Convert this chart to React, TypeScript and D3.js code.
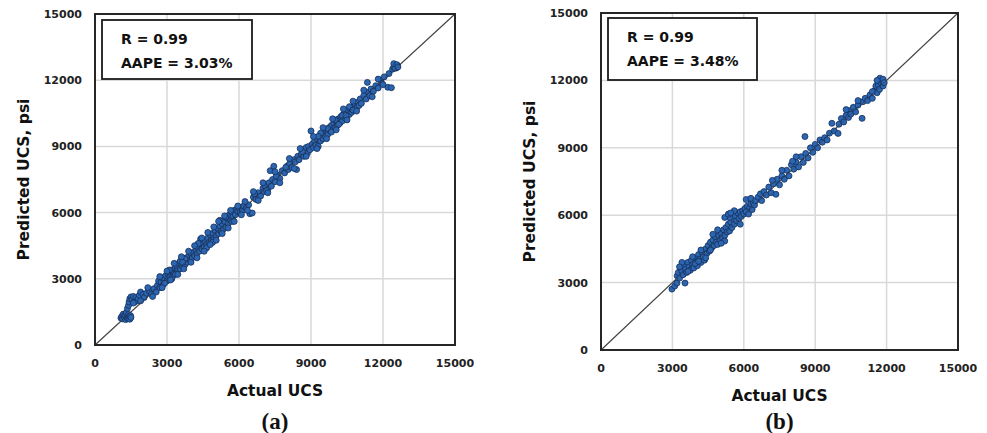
import React from "react";
import * as d3 from "d3";

const xTicks = [0, 3000, 6000, 9000, 12000, 15000];
const yTicks = [0, 3000, 6000, 9000, 12000, 15000];
const statsA = ["R = 0.99", "AAPE = 3.03%"];
const statsB = ["R = 0.99", "AAPE = 3.48%"];
const labelA = "(a)";
const labelB = "(b)";
const xTitle = "Actual UCS";
const yTitle = "Predicted UCS, psi";

// Panel (a): [actual, predicted]
const pointsA: [number, number][] = [
  [1080,1220],[1120,1300],[1150,1180],[1180,1400],[1220,1260],[1250,1350],[1280,1150],[1300,1450],[1330,1240],[1360,1320],
  [1380,1200],[1400,1380],[1420,1280],[1450,1170],[1480,1330],[1500,1250],[1350,1650],[1400,1800],[1420,1950],[1450,2100],
  [1500,2180],[1550,2050],[1600,2200],[1650,1950],[1700,2150],[1750,2000],[1800,2100],[1850,2250],[1900,2400],[2000,2300],
  [2050,2150],[2150,2350],[2250,2450],[2350,2300],[2450,2550],[2550,2400],
  [2600,2700],[2650,2900],[2700,2600],[2750,2850],[2800,3050],[2850,2750],[2900,3000],[2950,3150],[3000,2900],[3050,3200],
  [3080,3050],[3100,3300],[3150,3100],[3200,3400],[3250,3150],[3280,3350],[3300,3250],[3350,3500],[3400,3300],[3420,3550],
  [3450,3400],[3500,3700],[3550,3450],[3600,3650],[3620,3850],[3650,3550],[3700,3800],[3750,3650],[3800,3950],[3850,3750],
  [3900,4000],[3950,3850],[4000,4150],[3100,3400],[3350,3200],[3550,3800],[3750,3900],[2900,2800],[3200,3000],[3650,3750],
  [4050,3950],[4100,4200],[4150,4050],[4200,4300],[4250,4150],[4300,4400],[4350,4250],[4400,4550],[4450,4350],[4500,4600],
  [4550,4450],[4600,4700],[4650,4550],[4700,4850],[4750,4650],[4800,5000],[4850,4750],[4900,5050],[4950,4850],[5000,5200],
  [5050,4950],[5100,5300],[5150,5050],[5200,5400],[5250,5150],[5300,5500],[5350,5250],[5400,5600],[5450,5350],[5500,5750],
  [5550,5500],[5600,5900],[5650,5650],[5700,6000],[5750,5800],[5800,6100],[5850,5900],[5900,6150],[5950,6050],[6000,6200],
  [6050,6000],[6100,6250],[6150,6100],[6200,6300],[6300,6200],[6400,6350],[6450,5950],[6550,5980],[4400,4800],[4650,4400],
  [5200,5650],[5450,5800],[5700,5600],[4300,4600],[4900,4650],
  [6600,6700],[6700,6600],[6800,6900],[6900,6750],[7000,7100],[7050,6950],[7100,7200],[7200,7050],[7250,7350],[7300,7900],
  [7350,7200],[7450,8100],[7400,7500],[7500,7400],[7600,7700],[7700,7550],[7800,7900],[7900,7800],[8000,8100],[8050,7950],
  [8100,8200],[8200,8050],[8300,8400],[8400,7950],[8350,8300],[8450,8550],[8500,8400],[8600,8650],[8700,8550],[8750,8800],
  [8800,8950],[8850,8700],[8900,9000],[8950,8850],[9000,9700],[6650,6850],[7150,7000],[7550,7650],[7950,8050],[8650,8750],
  [9050,9100],[9100,8950],[9150,9250],[9200,9050],[9250,9350],[9300,9000],[9350,9400],[9400,9250],[9450,9550],[9500,9350],
  [9550,9650],[9600,9450],[9650,9750],[9700,9550],[9750,9850],[9800,9700],[9850,9950],[9900,9750],[9950,10050],[10000,9850],
  [10050,10150],[10100,9950],[10150,10250],[10200,10050],[10250,10350],[10300,10150],[10350,10450],[10400,10300],[10450,10550],[10500,10350],
  [10550,10650],[10600,10450],[10650,10700],[10700,10550],[10750,10800],[10800,10650],[10850,10900],[10900,10750],[10950,11000],[11000,10850],
  [9400,9600],[9700,9800],[10000,10200],[10300,10400],[10600,10800],[9300,9450],[9850,9650],[10150,10000],[10450,10400],[10750,10650],
  [11050,11150],[11100,10950],[11200,11300],[11300,11150],[11350,11900],[11400,11450],[11450,11300],[11500,11600],[11600,11500],[11700,11750],
  [11800,11650],[11900,12000],[11950,11850],[12050,12150],[12200,11680],[12350,11660],[12250,12300],[12400,12500],[12450,12600],[12500,12700],
  [12550,12550],[12600,12650],[12500,12550],[12450,12750],[12580,12700],[12620,12600],
  [1600,1900],[1900,2000],[2200,2600],[2400,2200],[2700,3100],[2800,2600],[3000,3350],[3150,2950],[3300,3700],[3450,3200],
  [3600,4000],[3700,3450],[3900,4250],[4000,3750],[4150,4500],[4250,3950],[4450,4850],[4550,4250],[4700,5100],[4800,4550],
  [4950,5350],[5050,4750],[5150,5600],[5300,5050],[5400,5850],[5550,5300],[5650,6100],[5800,5600],[5950,6300],[6100,5900],
  [6250,6500],[6350,6100],[6600,6950],[6800,6550],[7000,7350],[7200,6900],[7500,7850],[7700,7350],[8100,8450],[8300,8000],
  [8550,8900],[8800,8550],[9100,9450],[9250,8900],[9500,9850],[9650,9350],[9900,10250],[10050,9750],[10350,10700],[10500,10200],
  [10750,11050],[10900,10600],[11200,11550],[11550,11250],[11800,12050],[12000,11800],
];

// Panel (b): [actual, predicted]
const pointsB: [number, number][] = [
  [2980,2710],[3100,2850],[3190,2980],[3530,2980],[3200,3300],[3250,3450],[3300,3200],[3350,3650],[3400,3500],[3450,3350],
  [3500,3800],[3550,3600],[3600,3450],[3650,3900],[3700,3700],[3750,3550],[3800,4000],[3850,3800],[3900,3650],[3950,4100],
  [4000,3900],[4050,3750],[4100,4250],[4150,4050],[4200,3900],[4250,4350],[4300,4150],[4350,4000],[4400,4500],[4450,4300],
  [3400,3900],[3650,3500],[3950,3850],[4200,4450],[4400,4100],[3300,3700],[3850,4150],[4100,3950],
  [4500,4650],[4550,4400],[4600,4800],[4650,4550],[4700,4900],[4750,4650],[4800,5050],[4850,4800],[4900,4700],[4950,5100],
  [5000,4900],[5050,5200],[5100,5000],[5150,5350],[5200,5100],[5250,5450],[5300,5250],[5350,5600],[5400,5300],[5450,5700],
  [5500,5450],[5550,5850],[5600,5600],[5650,5950],[5700,5750],[5750,6100],[5800,5850],[5850,6150],[5900,5950],[5950,6200],
  [6000,6050],[6050,6300],[6100,6150],[6150,6400],[6200,6050],[6250,6350],[6300,6500],[6350,6250],[6400,6550],[6450,6450],
  [4700,5150],[4900,5350],[5200,4850],[5400,5900],[5600,6200],[5850,5600],[6100,6700],[6300,6750],[5050,4750],[4600,4450],
  [5200,5900],[5350,6050],[5450,6100],
  [6500,6650],[6600,6800],[6700,6950],[6750,6650],[6850,7050],[6950,6900],[7050,7250],[7150,7000],[7250,7400],[7350,6930],
  [7400,7600],[7500,7350],[7600,7750],[7700,7600],[7800,8000],[7900,7750],[8000,8250],[8100,8050],[8200,8350],[8300,8150],
  [8400,8600],[8500,8350],[8570,9500],[8600,8750],[8700,8550],[8800,9000],[8900,8800],[9000,9150],[7600,8000],[8200,8600],
  [8050,8400],[7200,7550],
  [9100,9000],[9200,9350],[9300,9250],[9400,9450],[9500,9350],[9600,9650],[9700,10090],[9800,9750],[9960,9640],[10000,10050],
  [10100,10300],[10200,10150],[10300,10450],[10400,10350],[10450,10650],[10500,10500],[10600,10800],[10700,10600],[10800,10900],[10970,10310],
  [11000,11050],[11100,11200],[11200,11100],[11300,11350],[11400,11200],[11500,11550],[11550,11750],[11600,11450],[11650,11800],[11700,11600],
  [11750,11900],[11800,12000],[11850,11750],[11720,12100],[11850,12050],[11900,11900],[11600,12000],[11400,11500],[10800,11100],[10300,10700],
];

const FONT = "'DejaVu Sans', Verdana, sans-serif";

type PanelProps = {
  left: number; right: number; top: number; bottom: number;
  points: [number, number][]; stats: string[]; label: string;
  legend: { x: number; y: number; w: number; h: number };
};

function Panel({ left, right, top, bottom, points, stats, label, legend }: PanelProps) {
  const x = d3.scaleLinear().domain([0, 15000]).range([left, right]);
  const y = d3.scaleLinear().domain([0, 15000]).range([bottom, top]);
  const cx = (left + right) / 2;
  const cy = (top + bottom) / 2;
  return (
    <g>
      {xTicks.slice(1, -1).map((t) => (
        <line key={"gx" + t} x1={x(t)} x2={x(t)} y1={top} y2={bottom} stroke="#d9d9d9" strokeWidth={1.5} />
      ))}
      {yTicks.slice(1, -1).map((t) => (
        <line key={"gy" + t} y1={y(t)} y2={y(t)} x1={left} x2={right} stroke="#d9d9d9" strokeWidth={1.5} />
      ))}
      <line x1={x(0)} y1={y(0)} x2={x(15000)} y2={y(15000)} stroke="#555" strokeWidth={1.2} />
      {points.map((p, i) => (
        <circle key={i} cx={x(p[0])} cy={y(p[1])} r={3} fill="#2c66b1" stroke="#142f5c" strokeWidth={0.8} />
      ))}
      <line x1={x(0)} y1={y(0)} x2={x(15000)} y2={y(15000)} stroke="#333" strokeWidth={0.8} opacity={0.6} />
      <rect x={left} y={top} width={right - left} height={bottom - top} fill="none" stroke="#262626" strokeWidth={2} />
      {xTicks.map((t) => (
        <text key={"tx" + t} x={x(t)} y={bottom + 22} textAnchor="middle" fontFamily={FONT} fontWeight="bold" fontSize={11} fill="#222">{t}</text>
      ))}
      {yTicks.map((t) => (
        <text key={"ty" + t} x={left - 13} y={y(t) + 4} textAnchor="end" fontFamily={FONT} fontWeight="bold" fontSize={11} fill="#222">{t}</text>
      ))}
      <text x={cx} y={bottom + 51} textAnchor="middle" fontFamily={FONT} fontWeight="bold" fontSize={15.5} fill="#111">{xTitle}</text>
      <text transform={`translate(${left - 66},${cy}) rotate(-90)`} textAnchor="middle" fontFamily={FONT} fontWeight="bold" fontSize={15.5} fill="#111">{yTitle}</text>
      <text x={cx} y={429} textAnchor="middle" fontFamily="'Liberation Serif', 'Times New Roman', serif" fontWeight="bold" fontSize={23} fill="#111">{label}</text>
      <rect x={legend.x} y={legend.y} width={legend.w} height={legend.h} fill="#fff" stroke="#1a1a1a" strokeWidth={1.8} />
      {stats.map((s, i) => (
        <text key={s} x={legend.x + 19} y={legend.y + 24 + i * 24} fontFamily={FONT} fontWeight="bold" fontSize={14} fill="#111">{s}</text>
      ))}
    </g>
  );
}

export default function App() {
  return (
    <svg width={987} height={433} style={{ position: "absolute", left: 0, top: 0, background: "#fff" }}>
      <rect width={987} height={433} fill="#fff" />
      <Panel left={95} right={455} top={14} bottom={345} points={pointsA} stats={statsA} label={labelA}
        legend={{ x: 102, y: 20, w: 150, h: 59 }} />
      <Panel left={601} right={958} top={13} bottom={350} points={pointsB} stats={statsB} label={labelB}
        legend={{ x: 608, y: 18, w: 149, h: 62 }} />
    </svg>
  );
}
